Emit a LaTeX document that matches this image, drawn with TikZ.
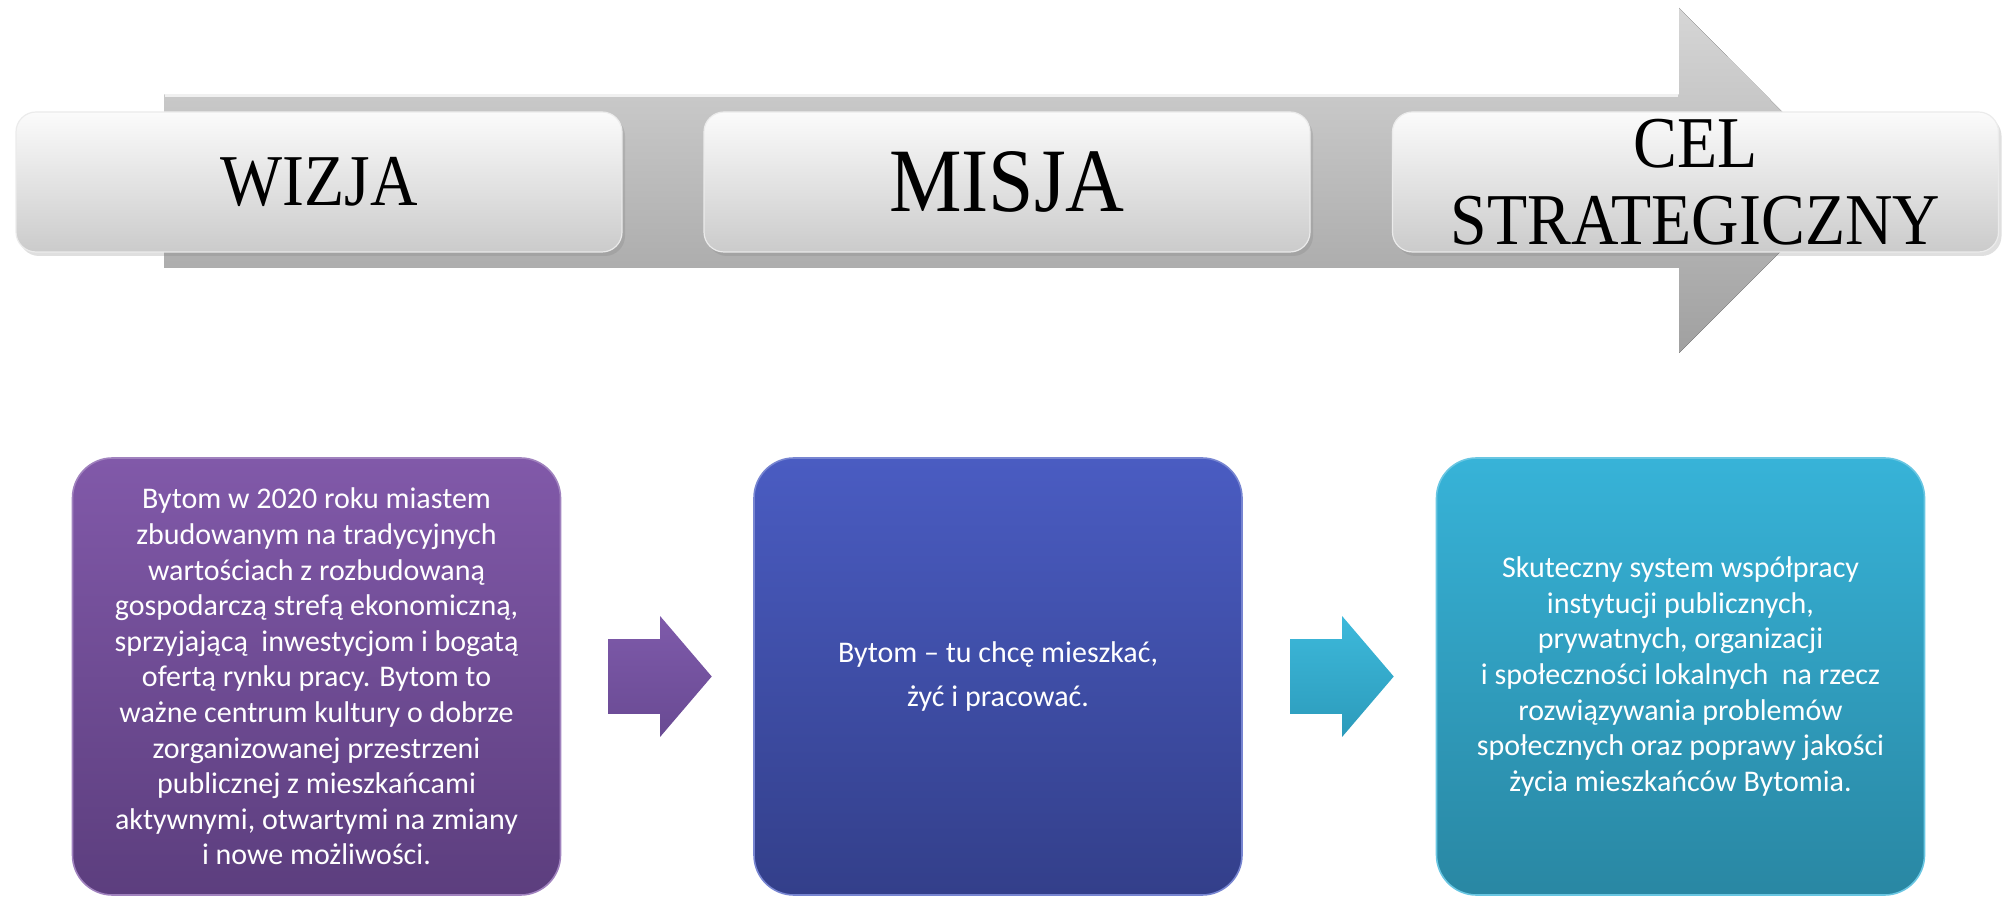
\documentclass[tikz,border=0pt]{standalone}
\usepackage{fontspec}
\setmainfont{Carlito}
\newfontfamily\hdrfont[FakeStretch=0.9]{Liberation Serif}
\usepackage{tikz}
\usetikzlibrary{calc, shapes.arrows, shadows}

\definecolor{bandtop}{HTML}{D6D6D6}
\definecolor{bandbot}{HTML}{A0A0A0}
\definecolor{hdrtop}{HTML}{FBFBFB}
\definecolor{hdrbot}{HTML}{CBCBCB}
\definecolor{vtop}{HTML}{8159A9}
\definecolor{vbot}{HTML}{5C3E7E}
\definecolor{mtop}{HTML}{4A5CC2}
\definecolor{mbot}{HTML}{333F8A}
\definecolor{ctop}{HTML}{37B3D8}
\definecolor{cbot}{HTML}{2987A3}
\definecolor{patop}{HTML}{7E5AAA}
\definecolor{pabot}{HTML}{694A93}
\definecolor{catop}{HTML}{3DB9DB}
\definecolor{cabot}{HTML}{2C9BBB}

\tikzset{
  hdr/.style={rounded corners=10pt, minimum width=303pt, minimum height=70pt,
    top color=hdrtop, bottom color=hdrbot, draw=white!92!black, line width=0.6pt,
    drop shadow={shadow xshift=1.5pt, shadow yshift=-2pt, opacity=0.25},
    font=\hdrfont\fontsize{36.5}{38.5}\selectfont, align=center, inner sep=0pt},
  card/.style={rounded corners=20pt, minimum width=244pt, minimum height=218.5pt,
    text=white, align=center, line width=0.8pt,
    font=\fontsize{15}{17.8}\selectfont},
  link/.style={single arrow, minimum height=51.5pt, inner xsep=0pt, inner ysep=18.5pt,
    single arrow head extend=11.5pt, single arrow tip angle=99, xshift=-6.5pt},
}

\begin{document}
\begin{tikzpicture}[x=0.5pt,y=-0.5pt]
      \useasboundingbox (0,0) rectangle (2007,897);
      % grey arrow behind the headers
      \fill[top color=bandtop, bottom color=bandbot]
        (164,95) -- (1679,95) -- (1679,8) -- (1851,181) -- (1679,353)
        -- (1679,268) -- (164,268) -- cycle;
      \draw[white!88!gray, line width=1.5pt] (165,96) -- (1678,96);
      % headers
      \node[hdr] (wiz) at (319,182) {WIZJA};
      \node[hdr, font=\hdrfont\fontsize{45.3}{45.3}\selectfont] (mis) at (1007,182) {MISJA};
      \node[hdr] (cel) at (1695.5,182) {CEL\\STRATEGICZNY};
      % cards
      \node[card, top color=vtop, bottom color=vbot, draw=vtop!75!white] (vis) at (316.5,676.5)
        {Bytom w 2020 roku miastem\\
         zbudowanym na tradycyjnych\\
         wartościach z rozbudowaną\\
         gospodarczą strefą ekonomiczną,\\
         sprzyjającą\ \ inwestycjom i bogatą\\
         ofertą rynku pracy. Bytom to\\
         ważne centrum kultury o dobrze\\
         zorganizowanej przestrzeni\\
         publicznej z mieszkańcami\\
         aktywnymi, otwartymi na zmiany\\
         i nowe możliwości.};
      \node[card, top color=mtop, bottom color=mbot, draw=mtop!75!white] (mst) at (998,676.5)
        {Bytom – tu chcę mieszkać,\\[4pt]
         żyć i pracować.};
      \node[card, top color=ctop, bottom color=cbot, draw=ctop!75!white] (str) at (1680.5,676.5)
        {Skuteczny system współpracy\\
         instytucji publicznych,\\
         prywatnych, organizacji\\
         i społeczności lokalnych\ \ na rzecz\\
         rozwiązywania problemów\\
         społecznych oraz poprawy jakości\\
         życia mieszkańców Bytomia.};
      % arrows between cards
      \node[link, top color=patop, bottom color=pabot] (a1) at ($(vis.east)!0.5!(mst.west)$) {};
      \node[link, top color=catop, bottom color=cabot] (a2) at ($(mst.east)!0.5!(str.west)$) {};
    \end{tikzpicture}
\end{document}
